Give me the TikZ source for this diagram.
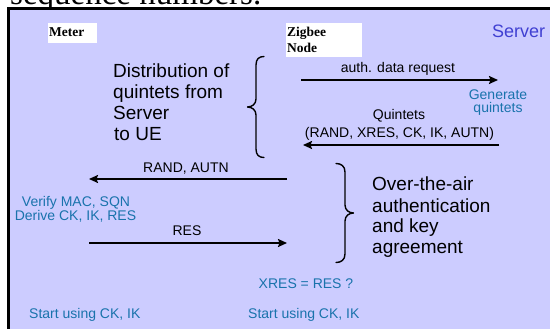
\documentclass[tikz,border=0pt]{standalone}
\usepackage{fontspec}
\setmainfont{Liberation Sans}
\newfontfamily\labelserif{Liberation Serif}
\usetikzlibrary{arrows.meta}
\definecolor{panel}{RGB}{204,204,255}
\definecolor{note}{RGB}{25,115,172}
\definecolor{srv}{RGB}{64,64,210}
\begin{document}
\begin{tikzpicture}[x=1pt,y=-1pt,
  msg/.style={line width=2pt, -{Stealth[length=9pt,width=8pt,inset=1.5pt]}},
  bracepath/.style={line width=1.4pt, line cap=round, line join=round},
  lbl/.style={inner sep=0pt, anchor=base, font=\fontsize{14}{16}\selectfont},
  notetext/.style={lbl, text=note},
  bigtext/.style={inner sep=0pt, anchor=base west, font=\fontsize{19}{21}\selectfont},
  entitytext/.style={inner sep=0pt, anchor=base west, font=\labelserif\bfseries\fontsize{13.5}{15}\selectfont}]
\useasboundingbox (0,0) rectangle (550,329);

% caption line above the slide, cut off by the frame
\begin{scope}
  \clip (0,0) rectangle (550,7);
  \node[inner sep=0pt, anchor=base west, font=\labelserif\fontsize{33}{36}\selectfont] (caption) at (10,4.5) {sequence numbers.};
\end{scope}

% slide background and frame
\fill[panel] (10,10) rectangle (550,329);
\draw[line width=3pt] (8.5,329) -- (8.5,8.5) -- (550,8.5);

% entity headers
\fill[white] (47.5,23) rectangle (96.5,43);
\node[entitytext] (meter) at (49,37) {Meter};
\fill[white] (286,23) rectangle (362,57);
\node[entitytext] (zigbee) at (287,37) {Zigbee};
\node[entitytext] (node) at (287,53) {Node};
\node[inner sep=0pt, anchor=base west, text=srv, font=\fontsize{18}{20}\selectfont] (server) at (492,38) {Server};

% message end points
\coordinate (reqS) at (301,80);
\coordinate (reqE) at (498,80);
\coordinate (qS) at (499,145);
\coordinate (qE) at (303,145);
\coordinate (randS) at (287,179);
\coordinate (randE) at (89,179);
\coordinate (resS) at (89,243);
\coordinate (resE) at (287,243);

% distribution of quintets
\node[lbl] (req) at (398,73) {auth. data request};
\draw[msg] (reqS) -- (reqE);
\node[notetext] (gen1) at (498,100) {Generate};
\node[notetext] (gen2) at (498,113) {quintets};
\node[lbl] (quint) at (399,120) {Quintets};
\node[lbl] (quintlist) at (399.5,137.5) {(RAND, XRES, CK, IK, AUTN)};
\draw[msg] (qS) -- (qE);

\node[bigtext] (d1) at (113,78) {Distribution of};
\node[bigtext] (d2) at (113,99) {quintets from};
\node[bigtext] (d3) at (113,120) {Server};
\node[bigtext] (d4) at (114,141) {to UE};

% left brace of the first phase
\draw[bracepath] (264,56.5) .. controls (259,56.5) and (256,59) .. (256,65)
  -- (256,99) .. controls (256,104) and (252,107) .. (247.5,107)
  .. controls (252,107) and (256,110) .. (256,115)
  -- (256,149) .. controls (256,155) and (259,157.5) .. (264,157.5);

% over-the-air phase
\node[lbl] (rand) at (186,173) {RAND, AUTN};
\draw[msg] (randS) -- (randE);
\node[notetext] (verify) at (76,207) {Verify MAC, SQN};
\node[notetext] (derive) at (75.5,221) {Derive CK, IK, RES};
\node[lbl] (res) at (187,236) {RES};
\draw[msg] (resS) -- (resE);

% right brace of the second phase
\draw[bracepath] (336,163.5) .. controls (341,163.5) and (345,166) .. (345,172)
  -- (345,205) .. controls (345,210) and (349,213) .. (353.5,213)
  .. controls (349,213) and (345,216) .. (345,221)
  -- (345,254) .. controls (345,260) and (341,262.5) .. (336,262.5);

\node[bigtext] (o1) at (372,191) {Over-the-air};
\node[bigtext] (o2) at (372,212) {authentication};
\node[bigtext] (o3) at (372,233) {and key};
\node[bigtext] (o4) at (372,253) {agreement};

\node[notetext] (check) at (306,288) {XRES = RES ?};
\node[notetext, anchor=base west] (useL) at (29,318) {Start using CK, IK};
\node[notetext, anchor=base west] (useR) at (248,318) {Start using CK, IK};
\end{tikzpicture}
\end{document}
